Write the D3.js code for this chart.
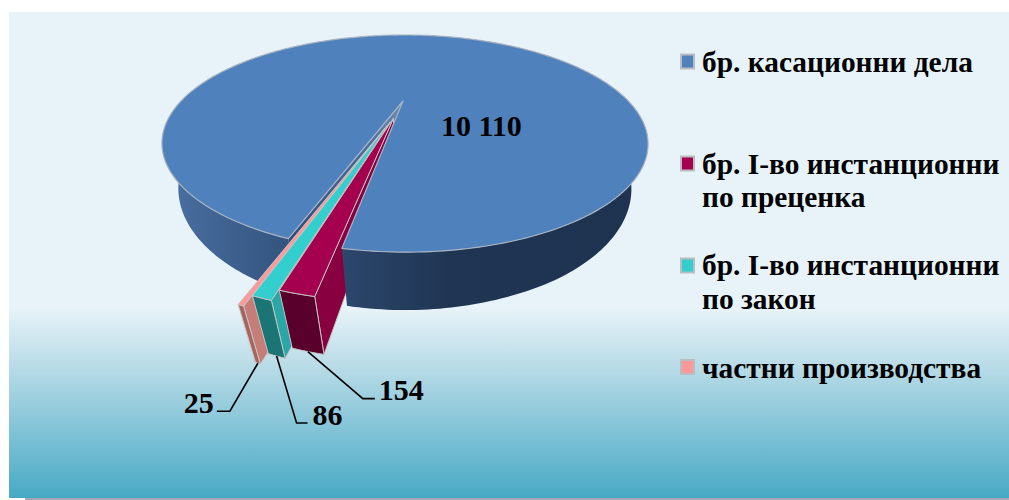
<!DOCTYPE html>
<html><head><meta charset="utf-8">
<script src="https://cdn.jsdelivr.net/npm/d3@7/dist/d3.min.js"></script>
<style>html,body{margin:0;padding:0;background:#fff}svg{display:block}text{font-family:"Liberation Serif",serif;font-weight:700;fill:#000}</style>
</head><body><script>
const categories = ["бр. касационни дела","бр. I-во инстанционни\nпо преценка","бр. I-во инстанционни\nпо закон","частни производства"];
const values = [10110,154,86,25];
const valueLabels = ["10 110","154","86","25"];
const explode = [0,0.18,0.215,0.25];
const explodeTilt = [0,0,3,4];
const topColors = ["#4f81bd","#a50050","#33cfcf","#ff9999"];
const outerColors = ["#2b4770","#5a002c","#1c7575","#a8635f"];
const sideColors = ["#2b4770","#88003f","#2aa6a6","#c67d78"];
const legendCenter = [61.5,163.5,265.5,367];
const legendBase = [72,173.5,275,378];
const lineGap = 33.5;

const W=1009,H=500;
const svg=d3.select("body").append("svg").attr("width",W).attr("height",H);
const defs=svg.append("defs");
const bg=defs.append("linearGradient").attr("id","bg").attr("x1",0).attr("x2",0).attr("y1",0).attr("y2",1);
[[0,"#e7f3f8"],[0.61,"#e7f3f8"],[0.72,"#bcdde8"],[1,"#48a9c5"]].forEach(s=>bg.append("stop").attr("offset",s[0]).attr("stop-color",s[1]));
const wg=defs.append("linearGradient").attr("id","wall").attr("gradientUnits","userSpaceOnUse").attr("x1",165).attr("x2",640).attr("y1",0).attr("y2",0);
[[0,"#4a70a2"],[0.25,"#345580"],[0.4,"#2a4569"],[0.6,"#1f3553"],[1,"#1d3350"]].forEach(s=>wg.append("stop").attr("offset",s[0]).attr("stop-color",s[1]));
svg.append("rect").attr("x",9).attr("y",12).attr("width",W-9).attr("height",486).attr("fill","url(#bg)");
svg.append("rect").attr("x",25).attr("y",498).attr("width",W-25).attr("height",2).attr("fill","#a3a8b4");

// perspective projection of the pie disc
const k=0.392, cx=403, cy=101, a=52.3, d=223.6, depth=39.4, k2=0.32;
function proj(u,v,h,skew){
  const w=1-k*v;
  const s=0.068+0.037*Math.max(0,Math.min(1,(v-0.9)/0.2));
  return [cx+(d*u+skew)/w*(1-s*h),(cy+a*v)/w+depth*h/(1-k2*Math.min(v,1))];
}
const pol=(ang,r,e,bis,h,skew)=>proj(r*Math.sin(ang)+e*Math.sin(bis),-r*Math.cos(ang)-e*Math.cos(bis),h,skew||0);
const start=199.3*Math.PI/180;
const arcs=d3.pie().sort(null).startAngle(start).endAngle(start+2*Math.PI)(values);
const line=d3.line();
const poly=(pts)=>line(pts)+"Z";
const rim=(s,e,f)=>{const n=Math.max(2,Math.ceil(Math.abs(e-s)*180/Math.PI));return d3.range(n+1).map(i=>f(s+(e-s)*i/n));};

const G=svg.append("g");
const main=arcs[0];
const rp=(ang,h)=>pol(ang,1,0,0,h,1.7);
const split=Math.PI*1.5;
function wall(s,e){return poly(rim(s,e,t=>rp(t,0)).concat(rim(e,s,t=>rp(t,1))));}
const apex0=pol(0,0,0,0,0,0),apex1=pol(0,0,0,0,1,0);
const cutEnd=rp(main.startAngle,0);
const cg=defs.append("linearGradient").attr("id","cut").attr("gradientUnits","userSpaceOnUse").attr("x1",apex0[0]).attr("y1",apex0[1]).attr("x2",cutEnd[0]).attr("y2",cutEnd[1]);
[[0,"#6a8db5"],[0.3,"#4a6f9f"],[1,"#2b4b78"]].forEach(s=>cg.append("stop").attr("offset",s[0]).attr("stop-color",s[1]));
// rear pieces of the main slice
G.append("path").attr("d",wall(main.startAngle,split)).attr("fill","url(#wall)");
G.append("path").attr("d",poly([apex0,cutEnd,rp(main.startAngle,1),apex1])).attr("fill","url(#cut)");

const dirOf=(s,i)=>(s.startAngle+s.endAngle)/2-explodeTilt[i]*Math.PI/180;
// exploded slices, far left first
[3,2,1].forEach(i=>{
  const s=arcs[i],bis=dirOf(s,i),e=explode[i];
  const P=(ang,r,h)=>pol(ang,r,e,bis,h,0);
  const g=G.append("g").attr("stroke","#c4c4c4").attr("stroke-width",1).attr("stroke-linejoin","round");
  g.append("path").attr("d",poly([P(0,0,0),P(s.startAngle,1,0),P(s.startAngle,1,1),P(0,0,1)])).attr("fill",sideColors[i]);
  g.append("path").attr("d",poly(rim(s.startAngle,s.endAngle,t=>P(t,1,0)).concat(rim(s.endAngle,s.startAngle,t=>P(t,1,1))))).attr("fill",outerColors[i]);
  g.append("path").attr("d",poly([P(0,0,0)].concat(rim(s.startAngle,s.endAngle,t=>P(t,1,0))))).attr("fill",topColors[i]);
});

// front pieces of the main slice
G.append("path").attr("d",wall(split,main.endAngle)).attr("fill","url(#wall)");
G.append("path").attr("d",poly([apex0].concat(rim(main.startAngle,main.endAngle,t=>rp(t,0))))).attr("fill",topColors[0]).attr("stroke","#a9b3c2").attr("stroke-width",1.2).attr("stroke-linejoin","round");

// leader lines and value labels
const leader=[null,{dx:55,dy:47,run:12,tx:4},{dx:20,dy:67,run:11,tx:5},{dx:-28,dy:48,run:13,tx:-3}];
[1,2,3].forEach(i=>{
  const s=arcs[i],l=leader[i];
  const p=pol((s.startAngle+s.endAngle)/2,1,explode[i],dirOf(s,i),1,0);
  const q=[p[0]+l.dx,p[1]+l.dy],r=[q[0]+(l.dx>0?l.run:-l.run),q[1]];
  G.append("path").attr("d",line([p,q,r])).attr("fill","none").attr("stroke","#000").attr("stroke-width",1.6);
  G.append("text").attr("x",r[0]+l.tx).attr("y",r[1]+1.5).attr("text-anchor",l.dx>0?"start":"end").attr("font-size",30).text(valueLabels[i]);
});
G.append("text").attr("x",441).attr("y",136).attr("font-size",30).text(valueLabels[0]);

// legend
const L=svg.append("g");
categories.forEach((c,i)=>{
  L.append("rect").attr("x",681).attr("y",legendCenter[i]-7).attr("width",13).attr("height",14).attr("fill",topColors[i]).attr("stroke","#b9bdc1").attr("stroke-width",2);
  c.split("\n").forEach((t,j)=>{
    L.append("text").attr("x",702).attr("y",legendBase[i]+j*lineGap).attr("font-size",29.4).text(t);
  });
});
</script></body></html>
